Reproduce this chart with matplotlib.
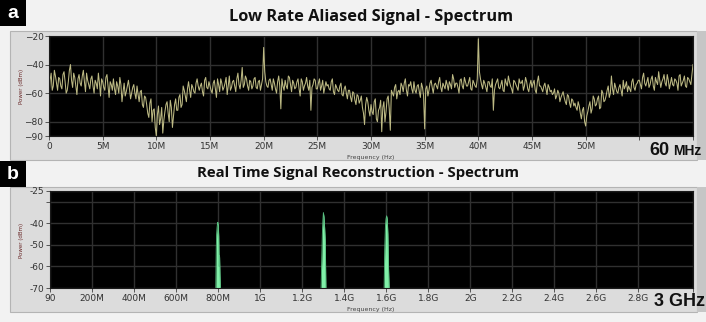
import matplotlib
matplotlib.use("Agg")
import matplotlib.pyplot as plt
from matplotlib.patches import Rectangle
from matplotlib.ticker import FixedLocator, FixedFormatter

# --- panel a: low rate aliased spectrum (dBm) ---
# samples at 0.0, 0.2, 0.4 ... 60.0 MHz
alias_power = [
    -62, -46, -55, -48, -58,  -50, -57, -45, -60, -52,
    -40, -56, -49, -61, -47,  -55, -44, -59, -51, -57,
    -48, -60, -53, -46, -62,  -52, -58, -47, -63, -54,
    -50, -61, -55, -49, -66,  -53, -59, -51, -64, -56,
    -60, -55, -66, -58, -70,  -63, -74, -67, -80, -71,
    -90, -69, -78, -88, -73,  -66, -80, -70, -76, -64,
    -72, -61, -68, -58, -66,  -52, -63, -56, -60, -50,
    -58, -53, -62, -49, -57,  -55, -60, -51, -63, -54,
    -50, -58, -53, -61, -48,  -56, -51, -59, -46, -57,
    -42, -54, -50, -58, -52,  -55, -49, -57, -51, -54,
    -28, -52, -56, -50, -58,  -53, -60, -48, -71, -55,
    -51, -57, -49, -59, -53,  -56, -50, -62, -52, -55,
    -49, -58, -72, -54, -51,  -57, -50, -55, -60, -52,
    -54, -58, -50, -61, -56,  -59, -53, -62, -55, -64,
    -58, -66, -60, -68, -62,  -65, -70, -82, -63, -72,
    -68, -75, -64, -80, -70,  -87, -66, -73, -62, -86,
    -60, -56, -64, -58, -53,  -59, -50, -62, -55, -57,
    -52, -60, -54, -63, -56,  -85, -55, -58, -51, -60,
    -53, -57, -49, -59, -55,  -51, -58, -54, -47, -56,
    -53, -60, -50, -57, -52,  -55, -49, -58, -53, -56,
    -22, -50, -57, -53, -59,  -52, -56, -72, -54, -50,
    -57, -51, -59, -53, -48,  -55, -60, -52, -56, -50,
    -53, -58, -49, -57, -54,  -56, -51, -60, -48, -55,
    -59, -53, -61, -56, -58,  -60, -64, -58, -66, -61,
    -63, -68, -62, -70, -65,  -67, -72, -69, -78, -70,
    -83, -73, -66, -71, -64,  -68, -62, -70, -60, -65,
    -58, -63, -48, -61, -56,  -60, -54, -62, -57, -52,
    -55, -59, -50, -58, -53,  -51, -57, -46, -55, -49,
    -54, -48, -58, -52, -45,  -56, -50, -53, -47, -57,
    -49, -55, -51, -58, -47,  -53, -48, -56, -50, -54,
    -40,
]
# samples at 0.1, 0.3, 0.5 ... 59.9 MHz
alias_power_mid = [
    -51, -58, -44, -53, -49,  -55, -47, -52, -58, -44,
    -51, -46, -55, -50, -53,  -48, -52, -46, -54, -50,
    -55, -51, -57, -53, -50,  -56, -49, -55, -52, -58,
    -57, -52, -60, -54, -59,  -62, -55, -57, -60, -54,
    -64, -61, -59, -68, -62,  -68, -77, -64, -72, -84,
    -75, -82, -70, -79, -68,  -74, -65, -84, -68, -72,
    -63, -70, -55, -62, -57,  -58, -54, -59, -53, -55,
    -55, -59, -51, -56, -52,  -58, -53, -57, -50, -59,
    -53, -56, -49, -55, -58,  -52, -55, -50, -54, -51,
    -56, -48, -55, -51, -57,  -50, -56, -52, -58, -50,
    -45, -55, -51, -54, -50,  -57, -52, -55, -50, -58,
    -55, -48, -54, -51, -57,  -52, -57, -50, -58, -53,
    -55, -51, -56, -50, -57,  -53, -58, -51, -56, -55,
    -57, -52, -59, -54, -58,  -55, -61, -57, -60, -58,
    -63, -59, -65, -61, -67,  -62, -74, -68, -66, -76,
    -73, -66, -78, -72, -65,  -70, -80, -64, -71, -58,
    -62, -54, -59, -61, -55,  -53, -58, -54, -52, -60,
    -58, -55, -59, -53, -62,  -57, -62, -53, -56, -54,
    -55, -52, -56, -53, -57,  -54, -52, -57, -50, -53,
    -56, -51, -55, -49, -55,  -52, -57, -51, -55, -50,
    -45, -54, -51, -56, -52,  -55, -50, -58, -52, -56,
    -54, -58, -50, -55, -52,  -57, -51, -54, -58, -53,
    -51, -55, -52, -59, -51,  -53, -58, -52, -55, -57,
    -55, -57, -54, -59, -61,  -57, -62, -60, -63, -59,
    -66, -61, -67, -64, -69,  -70, -66, -74, -72, -80,
    -76, -69, -74, -62, -69,  -64, -71, -58, -66, -62,
    -55, -60, -57, -53, -59,  -56, -58, -51, -55, -59,
    -57, -52, -56, -54, -51,  -54, -49, -53, -52, -56,
    -50, -55, -49, -54, -51,  -52, -47, -55, -51, -53,
    -54, -50, -53, -48, -55,  -51, -55, -49, -52, -47,
]
alias_step_mhz = 0.1
a_xticks = [0, 5, 10, 15, 20, 25, 30, 35, 40, 45, 50, 55, 60]
a_xlabels = ["0", "5M", "10M", "15M", "20M", "25M", "30M", "35M", "40M", "45M", "50M", "", ""]
a_yticks = [-20, -40, -60, -80, -90]

# --- panel b: reconstructed spectrum, three narrow tones (GHz, dBm) ---
tone1_f = [0.789, 0.791, 0.793, 0.795, 0.797, 0.799, 0.801, 0.803, 0.805, 0.807, 0.809, 0.811]
tone1_p = [-70, -52, -45, -42, -40, -39.5, -41, -46, -60, -55, -64, -70]
tone2_f = [1.290, 1.293, 1.296, 1.299, 1.301, 1.304, 1.307, 1.310, 1.313]
tone2_p = [-70, -58, -45, -38, -35, -37, -42, -48, -70]
tone3_f = [1.590, 1.593, 1.596, 1.599, 1.602, 1.605, 1.608, 1.611, 1.614]
tone3_p = [-70, -52, -42, -38, -36.5, -38, -45, -60, -70]
b_xticks = [0.0, 0.2, 0.4, 0.6, 0.8, 1.0, 1.2, 1.4, 1.6, 1.8, 2.0, 2.2, 2.4, 2.6, 2.8, 3.06]
b_xlabels = ["90", "200M", "400M", "600M", "800M", "1G", "1.2G", "1.4G", "1.6G",
             "1.8G", "2G", "2.2G", "2.4G", "2.6G", "2.8G", ""]
b_yticks = [-25, -30, -40, -50, -60, -70]
b_ylabels = ["-25", "", "-40", "-50", "-60", "-70"]

W, H = 706, 322
fig = plt.figure(figsize=(W / 100, H / 100), dpi=100)
fig.patch.set_facecolor("#f2f2f2")

# background canvas in pixel coordinates
bg = fig.add_axes([0, 0, 1, 1], zorder=0)
bg.set_xlim(0, W)
bg.set_ylim(H, 0)
bg.axis("off")

for y0, y1 in [(31, 160), (187, 312)]:
    bg.add_patch(Rectangle((10, y0), 687, y1 - y0, facecolor="#dcdcdc", edgecolor="#b4b4b4", lw=0.8))
    bg.add_patch(Rectangle((697, y0), 9, y1 - y0, facecolor="#c6c6c6", edgecolor="none"))

for y0, letter in [(0, "a"), (161, "b")]:
    bg.add_patch(Rectangle((0, y0), 26, 26, facecolor="black", edgecolor="none"))
    bg.text(13, y0 + 13, letter, color="white", fontsize=14, fontweight="bold",
            ha="center", va="center", family="Liberation Sans")

bg.text(371, 17, "Low Rate Aliased Signal - Spectrum", fontsize=11.8, fontweight="bold",
        ha="center", va="center", family="Open Sans", color="#111111")
bg.text(358, 173, "Real Time Signal Reconstruction - Spectrum", fontsize=10.7, fontweight="bold",
        ha="center", va="center", family="Open Sans", color="#111111")

bg.text(669, 150, "60", fontsize=13, fontweight="bold", ha="right", va="center",
        family="Liberation Sans", color="#111111")
bg.text(673, 151, "MHz", fontsize=10, fontweight="bold", ha="left", va="center",
        family="Liberation Sans", color="#111111")
bg.text(705, 301, "3 GHz", fontsize=13, fontweight="bold", ha="right", va="center",
        family="Liberation Sans", color="#111111")

bg.text(22, 86, "Power (dBm)", fontsize=4, rotation=90, ha="center", va="center", color="#6b2b2b")
bg.text(371, 157, "Frequency (Hz)", fontsize=4.5, ha="center", va="center", color="#444444")
bg.text(22, 240, "Power (dBm)", fontsize=4, rotation=90, ha="center", va="center", color="#6b2b2b")
bg.text(371, 309, "Frequency (Hz)", fontsize=4.5, ha="center", va="center", color="#444444")


def style_axes(ax):
    ax.set_facecolor("black")
    ax.grid(True, color="#303030", lw=1.0)
    ax.set_axisbelow(True)
    for s in ax.spines.values():
        s.set_color("#1a1a1a")
        s.set_linewidth(0.8)
    ax.tick_params(axis="both", direction="out", length=3, width=0.7, color="#555555",
                   labelsize=6.5, labelcolor="#333333", pad=1)


# panel a
ax1 = fig.add_axes([49 / W, 1 - 136 / H, 644 / W, 100 / H], zorder=2)
power_a = []
for p, m in zip(alias_power, alias_power_mid):
    power_a += [p, m]
power_a.append(alias_power[-1])
freq_a = [i * alias_step_mhz for i in range(len(power_a))]
ax1.plot(freq_a, power_a, color="#bdba84", lw=0.75)
ax1.set_xlim(0, 60)
ax1.set_ylim(-90, -20)
ax1.xaxis.set_major_locator(FixedLocator(a_xticks))
ax1.xaxis.set_major_formatter(FixedFormatter(a_xlabels))
ax1.yaxis.set_major_locator(FixedLocator(a_yticks))
style_axes(ax1)

# panel b
ax2 = fig.add_axes([50 / W, 1 - 288 / H, 643 / W, 97 / H], zorder=2)
for f, p in [(tone1_f, tone1_p), (tone2_f, tone2_p), (tone3_f, tone3_p)]:
    ax2.fill_between(f, p, -70, color="#80f0a8", lw=0)
    ax2.plot(f, p, color="#58c080", lw=0.6)
ax2.set_xlim(0, 3.06)
ax2.set_ylim(-70, -25)
ax2.xaxis.set_major_locator(FixedLocator(b_xticks))
ax2.xaxis.set_major_formatter(FixedFormatter(b_xlabels))
ax2.yaxis.set_major_locator(FixedLocator(b_yticks))
ax2.yaxis.set_major_formatter(FixedFormatter(b_ylabels))
style_axes(ax2)

fig.savefig("out.png", dpi=100, facecolor=fig.get_facecolor())
